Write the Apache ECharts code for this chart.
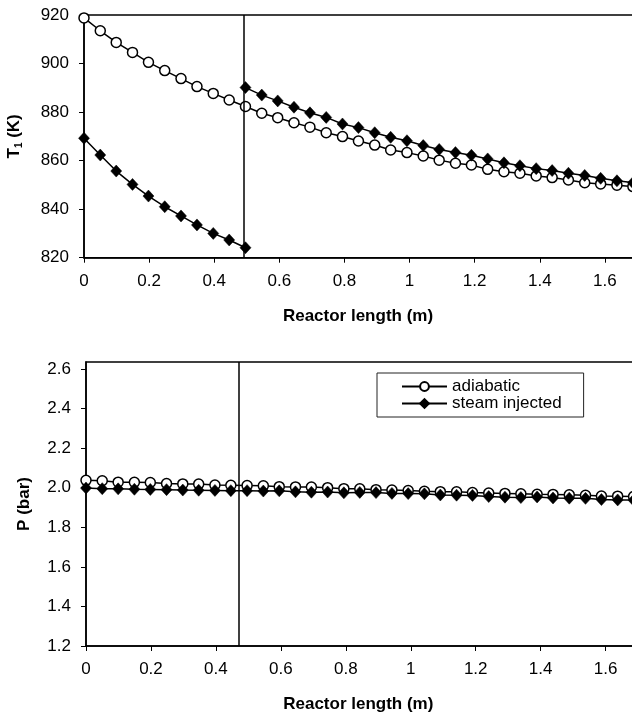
<!DOCTYPE html>
<html>
<head>
<meta charset="utf-8">
<script src="https://cdn.jsdelivr.net/npm/echarts@6/dist/echarts.min.js"></script>
<style>
html,body{margin:0;padding:0;background:#fff;}
#c{width:632px;height:719px;}
</style>
</head>
<body>
<div id="c"></div>
<script>
// Reactor length positions (m)
var xPos = [0,0.05,0.099,0.149,0.198,0.248,0.298,0.347,0.397,0.446,0.496,0.546,0.595,0.645,0.694,0.744,0.794,0.843,0.893,0.942,0.992,1.042,1.091,1.141,1.190,1.240,1.290,1.339,1.389,1.438,1.488,1.538,1.587,1.637,1.686];

// Top panel: T1 (K)
var tAdiabatic = [918.8,913.5,908.7,904.6,900.5,897.1,893.8,890.5,887.7,885.0,882.3,879.5,877.7,875.6,873.8,871.5,869.9,868.1,866.4,864.4,863.3,861.9,860.2,858.9,858.2,856.4,855.4,854.8,853.7,853.0,852.0,850.9,850.4,849.9,849.3];
var tSteamBefore = [869.2,862.3,855.7,850.2,845.4,841.0,837.2,833.5,830.0,827.3,824.1]; // xPos[0..10]
var tSteamAfter = [890.1,887.0,884.6,882.0,879.7,877.8,875.1,873.6,871.5,869.6,868.2,866.2,864.6,863.3,862.2,860.7,859.1,857.9,856.7,855.9,854.8,853.9,852.7,851.7,850.9]; // xPos[10..34]

// Bottom panel: P (bar)
var pAdiabatic = [2.037,2.035,2.028,2.027,2.026,2.021,2.019,2.018,2.013,2.012,2.011,2.010,2.005,2.004,2.003,2.000,1.995,1.994,1.990,1.988,1.986,1.982,1.980,1.979,1.975,1.973,1.971,1.969,1.967,1.966,1.964,1.962,1.958,1.957,1.955];
var pSteam = [1.998,1.995,1.994,1.992,1.991,1.990,1.988,1.987,1.986,1.985,1.985,1.983,1.984,1.979,1.977,1.978,1.974,1.976,1.975,1.971,1.970,1.969,1.963,1.962,1.961,1.955,1.952,1.950,1.953,1.948,1.947,1.946,1.940,1.938,1.937];

// Injection point markers (vertical lines), m
var injectTop = 0.488;
var injectBottom = 0.467;

var seriesNames = ['adiabatic', 'steam injected'];

function pairs(xs, ys, offset) {
  var out = [];
  for (var i = 0; i < ys.length; i++) out.push([xs[i + (offset || 0)], ys[i]]);
  return out;
}

var FONT = '"Liberation Sans", Arial, sans-serif';
var circleStyle = { color: '#fff', borderColor: '#000', borderWidth: 1.5 };
var diamondStyle = { color: '#000', borderColor: '#000', borderWidth: 0.5 };
var lineStyle = { color: '#000', width: 1.5 };

function xAxisCfg(gridIndex, padRight) {
  return {
    type: 'value', gridIndex: gridIndex, min: 0, max: 1.8, interval: 0.2,
    axisLine: { show: true, onZero: false, lineStyle: { color: '#000', width: 1.5 } },
    axisTick: { show: true, inside: false, length: 5, lineStyle: { color: '#000', width: 1 } },
    axisLabel: { color: '#000', fontSize: 17, fontFamily: FONT, margin: 15 },
    splitLine: { show: false },
    name: 'Reactor length (m)', nameLocation: 'middle', nameGap: 50,
    nameTextStyle: { color: '#000', fontSize: 17, fontWeight: 'bold', fontFamily: FONT, padding: [0, padRight, 0, 0] }
  };
}

var chart = echarts.init(document.getElementById('c'), null, { renderer: 'canvas' });
chart.setOption({
  animation: false,
  backgroundColor: '#fff',
  grid: [
    { left: 84, top: 15, height: 242.7, right: -38, show: true, borderColor: '#000', borderWidth: 1.5, backgroundColor: 'transparent', containLabel: false, outerBoundsMode: 'none' },
    { left: 86, top: 362, height: 284, right: -38.6, show: true, borderColor: '#000', borderWidth: 1.5, backgroundColor: 'transparent', containLabel: false, outerBoundsMode: 'none' }
  ],
  legend: {
    data: seriesNames,
    orient: 'vertical',
    left: 377, top: 373,
    padding: [5, 22, 5, 24],
    itemWidth: 45, itemHeight: 11, itemGap: 0,
    borderColor: '#222', borderWidth: 1,
    textStyle: { color: '#000', fontSize: 17, fontFamily: FONT, lineHeight: 16 }
  },
  xAxis: [xAxisCfg(0, 38), xAxisCfg(1, 40)],
  yAxis: [
    {
      type: 'value', gridIndex: 0, min: 820, max: 920, interval: 20,
      axisLine: { show: true, lineStyle: { color: '#000', width: 1.5 } },
      axisTick: { show: true, length: 5, lineStyle: { color: '#000', width: 1 } },
      axisLabel: { color: '#000', fontSize: 17, fontFamily: FONT, margin: 15 },
      splitLine: { show: false },
      name: '{t|T}{s|1}{t| (K)}', nameLocation: 'middle', nameGap: 60, nameRotate: 90,
      nameTextStyle: {
        rich: {
          t: { fontSize: 17, fontWeight: 'bold', fontFamily: FONT, color: '#000', lineHeight: 20 },
          s: { fontSize: 10, fontWeight: 'bold', fontFamily: FONT, color: '#000', lineHeight: 20, verticalAlign: 'bottom', padding: [6, 0, 0, 0] }
        }
      }
    },
    {
      type: 'value', gridIndex: 1, min: 1.2, max: 2.635, interval: 0.2,
      axisLine: { show: true, lineStyle: { color: '#000', width: 1.5 } },
      axisTick: { show: true, length: 5, lineStyle: { color: '#000', width: 1 } },
      axisLabel: { color: '#000', fontSize: 17, fontFamily: FONT, margin: 15, showMaxLabel: false,
        formatter: function (v) { return v.toFixed(1); } },
      splitLine: { show: false },
      name: 'P (bar)', nameLocation: 'middle', nameGap: 53, nameRotate: 90,
      nameTextStyle: { color: '#000', fontSize: 17, fontWeight: 'bold', fontFamily: FONT }
    }
  ],
  series: [
    {
      name: 'adiabatic', type: 'line', xAxisIndex: 0, yAxisIndex: 0,
      data: pairs(xPos, tAdiabatic),
      symbol: 'circle', symbolSize: 10, showAllSymbol: true,
      itemStyle: circleStyle, lineStyle: lineStyle, z: 2,
      markLine: { silent: true, symbol: 'none', label: { show: false },
        lineStyle: { color: '#000', width: 1.5, type: 'solid' }, data: [{ xAxis: injectTop }] }
    },
    {
      name: 'steam injected', type: 'line', xAxisIndex: 0, yAxisIndex: 0,
      data: pairs(xPos, tSteamBefore, 0),
      symbol: 'diamond', symbolSize: [11, 12], showAllSymbol: true,
      itemStyle: diamondStyle, lineStyle: lineStyle, z: 3
    },
    {
      name: 'steam injected', type: 'line', xAxisIndex: 0, yAxisIndex: 0,
      data: pairs(xPos, tSteamAfter, 10),
      symbol: 'diamond', symbolSize: [11, 12], showAllSymbol: true,
      itemStyle: diamondStyle, lineStyle: lineStyle, z: 3
    },
    {
      name: 'adiabatic', type: 'line', xAxisIndex: 1, yAxisIndex: 1,
      data: pairs(xPos, pAdiabatic),
      symbol: 'circle', symbolSize: 10, showAllSymbol: true,
      itemStyle: circleStyle, lineStyle: lineStyle, z: 2,
      markLine: { silent: true, symbol: 'none', label: { show: false },
        lineStyle: { color: '#000', width: 1.5, type: 'solid' }, data: [{ xAxis: injectBottom }] }
    },
    {
      name: 'steam injected', type: 'line', xAxisIndex: 1, yAxisIndex: 1,
      data: pairs(xPos, pSteam),
      symbol: 'diamond', symbolSize: [11, 12], showAllSymbol: true,
      itemStyle: diamondStyle, lineStyle: lineStyle, z: 3
    }
  ]
});
</script>
</body>
</html>
